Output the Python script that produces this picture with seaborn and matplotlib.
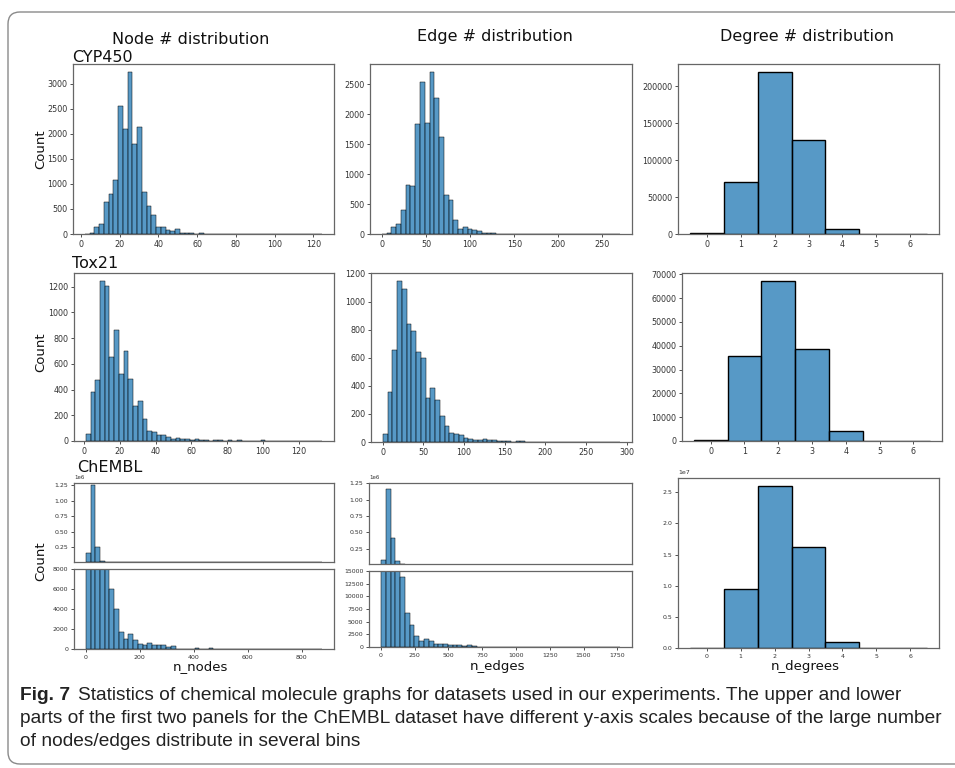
import numpy as np
import pandas as pd
import matplotlib
matplotlib.use("Agg")
import matplotlib.pyplot as plt
import seaborn as sns
from matplotlib.patches import FancyBboxPatch
from matplotlib.transforms import IdentityTransform
from matplotlib.ticker import MultipleLocator
from matplotlib import font_manager

# ---------------- data ----------------
col_titles = ["Node # distribution", "Edge # distribution", "Degree # distribution"]
row_titles = ["CYP450", "Tox21", "ChEMBL"]
x_labels = ["n_nodes", "n_edges", "n_degrees"]
degree_values = [0, 1, 2, 3, 4, 5, 6]

# CYP450
cyp_nodes_range = (2.0, 124.5)
cyp_nodes_counts = [5, 20, 130, 200, 640, 790, 1080, 2550, 2100, 3230,
                    1790, 2130, 830, 560, 380, 130, 140, 70, 60, 100,
                    25, 15, 20, 8, 10, 5, 6, 4, 5, 3,
                    3, 2, 3, 2, 4, 2, 2, 3, 2, 1,
                    3, 1, 1, 1, 1, 0, 1, 0, 1, 1]
cyp_edges_range = (0.0, 270.0)
cyp_edges_counts = [3, 20, 110, 160, 400, 820, 800, 1830, 2530, 1850,
                    2700, 2260, 1620, 650, 570, 240, 80, 120, 90, 70,
                    50, 25, 15, 10, 8, 6, 5, 4, 3, 3,
                    2, 2, 2, 1, 2, 1, 1, 2, 1, 1,
                    1, 1, 0, 1, 0, 1, 0, 0, 1, 1]
cyp_degree_counts = [1000, 70500, 219500, 128000, 7000, 300, 100]

# Tox21
tox_nodes_range = (1.0, 133.0)
tox_nodes_counts = [55, 385, 475, 1245, 1205, 650, 865, 525, 700, 485,
                    275, 315, 175, 75, 72, 50, 48, 35, 15, 20,
                    18, 12, 10, 12, 8, 5, 3, 5, 4, 2,
                    5, 3, 10, 3, 2, 1, 2, 4, 1, 1,
                    2, 1, 1, 1, 1, 1, 0, 1, 0, 1]
tox_edges_range = (0.0, 292.0)
tox_edges_counts = [55, 357, 652, 1146, 1088, 840, 790, 641, 596, 314,
                    385, 298, 182, 114, 65, 55, 50, 30, 18, 15,
                    15, 22, 12, 17, 10, 5, 10, 3, 4, 5,
                    3, 2, 2, 3, 2, 2, 1, 1, 2, 1,
                    1, 1, 1, 0, 1, 1, 0, 1, 0, 1]
tox_degree_counts = [300, 35500, 67200, 38800, 4100, 60, 20]

# ChEMBL
chembl_nodes_range = (1.0, 875.0)
chembl_nodes_counts = [150000, 1260000, 255000, 28000, 9500, 6000, 4050, 1750, 1050, 1550,
                       950, 500, 430, 580, 380, 400, 400, 250, 330, 50,
                       40, 40, 50, 60, 30, 40, 60, 30, 10, 10,
                       8, 5, 5, 20, 8, 5, 4, 5, 15, 4,
                       3, 3, 2, 2, 2, 1, 2, 1, 1, 1]
chembl_edges_range = (0.0, 1770.0)
chembl_edges_counts = [80000, 1164000, 410000, 55000, 13800, 6800, 4430, 2115, 1120, 1520,
                       1120, 530, 530, 600, 400, 400, 460, 260, 300, 100,
                       60, 50, 40, 40, 50, 30, 40, 30, 40, 40,
                       20, 20, 8, 5, 4, 3, 3, 2, 2, 2,
                       1, 1, 1, 1, 1, 1, 1, 1, 1, 1]
chembl_degree_counts = [50000, 9440000, 26000000, 16250000, 910000, 20000, 5000]

caption_bold = "Fig. 7"
caption_lines = [
    "Statistics of chemical molecule graphs for datasets used in our experiments. The upper and lower",
    "parts of the first two panels for the ChEMBL dataset have different y-axis scales because of the large number",
    "of nodes/edges distribute in several bins",
]

# ---------------- layout (pixels: left, top, right, bottom) ----------------
W, H = 955, 768
fig = plt.figure(figsize=(W / 100, H / 100), dpi=100)
fig.patch.set_facecolor("white")


def add_ax(box):
    l, t, r, b = box
    return fig.add_axes([l / W, 1 - b / H, (r - l) / W, (b - t) / H])


def style(ax, fs, offset_fs=None):
    ax.set_xlabel("")
    ax.set_ylabel("")
    ax.tick_params(labelsize=fs, length=2.5, width=0.6, pad=1.5, colors="#333333")
    for s in ax.spines.values():
        s.set_color("#666666")
        s.set_linewidth(0.9)
    ax.yaxis.get_offset_text().set_fontsize(offset_fs or fs)
    ax.yaxis.get_offset_text().set_color("#333333")


def hist_range(ax, rng, counts):
    n = len(counts)
    step = (rng[1] - rng[0]) / n
    centers = rng[0] + step * (np.arange(n) + 0.5)
    df = pd.DataFrame({"v": centers, "w": np.asarray(counts, dtype=float)})
    sns.histplot(data=df, x="v", weights="w", bins=n, binrange=rng, ax=ax)


def hist_discrete(ax, counts):
    df = pd.DataFrame({"v": degree_values, "w": np.asarray(counts, dtype=float)})
    sns.histplot(data=df, x="v", weights="w", discrete=True, ax=ax)


TICK_FS = 5.8
TICK_FS_SMALL = 4.5

# Row 1: CYP450
ax = add_ax((73, 64, 334, 234))
hist_range(ax, cyp_nodes_range, cyp_nodes_counts)
ax.xaxis.set_major_locator(MultipleLocator(20))
ax.yaxis.set_major_locator(MultipleLocator(500))
style(ax, TICK_FS)

ax = add_ax((370, 64, 632, 234))
hist_range(ax, cyp_edges_range, cyp_edges_counts)
ax.xaxis.set_major_locator(MultipleLocator(50))
ax.yaxis.set_major_locator(MultipleLocator(500))
style(ax, TICK_FS)

ax = add_ax((678, 64, 939, 234))
hist_discrete(ax, cyp_degree_counts)
ax.xaxis.set_major_locator(MultipleLocator(1))
ax.yaxis.set_major_locator(MultipleLocator(50000))
style(ax, TICK_FS)

# Row 2: Tox21
ax = add_ax((74, 273, 334, 441))
hist_range(ax, tox_nodes_range, tox_nodes_counts)
ax.xaxis.set_major_locator(MultipleLocator(20))
ax.yaxis.set_major_locator(MultipleLocator(200))
style(ax, TICK_FS)

ax = add_ax((371, 273, 632, 442))
hist_range(ax, tox_edges_range, tox_edges_counts)
ax.xaxis.set_major_locator(MultipleLocator(50))
ax.yaxis.set_major_locator(MultipleLocator(200))
style(ax, TICK_FS)

ax = add_ax((682, 273, 942, 441))
hist_discrete(ax, tox_degree_counts)
ax.xaxis.set_major_locator(MultipleLocator(1))
ax.yaxis.set_major_locator(MultipleLocator(10000))
style(ax, TICK_FS)

# Row 3: ChEMBL (broken y axes for nodes / edges)
for rng, counts, up_box, lo_box, up_lim, lo_lim, lo_step, x_step in [
    (chembl_nodes_range, chembl_nodes_counts, (74, 483, 334, 562), (74, 569, 334, 649),
     (8000, 1.29e6), (0, 8000), 2000, 200),
    (chembl_edges_range, chembl_edges_counts, (369, 483, 632, 564), (369, 571, 632, 647),
     (15000, 1.252e6), (0, 15000), 2500, 250),
]:
    axu = add_ax(up_box)
    hist_range(axu, rng, counts)
    axu.set_ylim(*up_lim)
    axu.yaxis.set_major_locator(MultipleLocator(250000))
    style(axu, TICK_FS_SMALL, 4.0)
    axu.tick_params(axis="x", bottom=False, labelbottom=False)

    axl = add_ax(lo_box)
    hist_range(axl, rng, counts)
    axl.set_ylim(*lo_lim)
    axl.yaxis.set_major_locator(MultipleLocator(lo_step))
    axl.xaxis.set_major_locator(MultipleLocator(x_step))
    style(axl, TICK_FS_SMALL)
    axu.set_xlim(axl.get_xlim())

ax = add_ax((678, 478, 939, 648))
hist_discrete(ax, chembl_degree_counts)
ax.xaxis.set_major_locator(MultipleLocator(1))
ax.yaxis.set_major_locator(MultipleLocator(5e6))
style(ax, TICK_FS_SMALL)

# ---------------- texts ----------------
def ftext(x, y, s, **kw):
    return fig.text(x / W, 1 - y / H, s, **kw)

for (x, y), s in zip([(190.5, 43.5), (494.5, 41), (806.5, 41)], col_titles):
    ftext(x, y, s, ha="center", va="baseline", fontsize=11.5, color="#111111")
for (x, y), s in zip([(72, 61.5), (72.5, 267.5), (77, 472)], row_titles):
    ftext(x, y, s, ha="left", va="baseline", fontsize=11.5, color="#111111")
for y in [149, 352.5, 561]:
    ftext(40.5, y, "Count", rotation=90, ha="center", va="center", fontsize=9.5, color="#111111")
for x, s in zip([200, 497, 805.5], x_labels):
    ftext(x, 670, s, ha="center", va="baseline", fontsize=9.5, color="#111111")

# frame
frame = FancyBboxPatch((8, 4), 1000, 752, boxstyle="round,pad=0,rounding_size=12",
                       transform=IdentityTransform(), fill=False,
                       edgecolor="#8a8a8a", linewidth=1.0)
fig.add_artist(frame)

# caption
avail = {f.name for f in font_manager.fontManager.ttflist}
fam = next(f for f in ["Liberation Sans Narrow", "Liberation Sans", "DejaVu Sans"] if f in avail)
fig.canvas.draw()
rend = fig.canvas.get_renderer()
t2 = ftext(20, 723, caption_lines[1], family=fam, fontsize=14, va="baseline", color="#222222")
w = t2.get_window_extent(rend).width
fs = 14 * 931 / w
t2.set_fontsize(fs)
tb = ftext(20, 699.5, caption_bold, family=fam, fontsize=fs, fontweight="bold",
           va="baseline", color="#222222")
wb = tb.get_window_extent(rend).width
ftext(20 + wb + 8, 699.5, caption_lines[0], family=fam, fontsize=fs, va="baseline", color="#222222")
ftext(20, 746.5, caption_lines[2], family=fam, fontsize=fs, va="baseline", color="#222222")

fig.savefig("out.png", dpi=100)
